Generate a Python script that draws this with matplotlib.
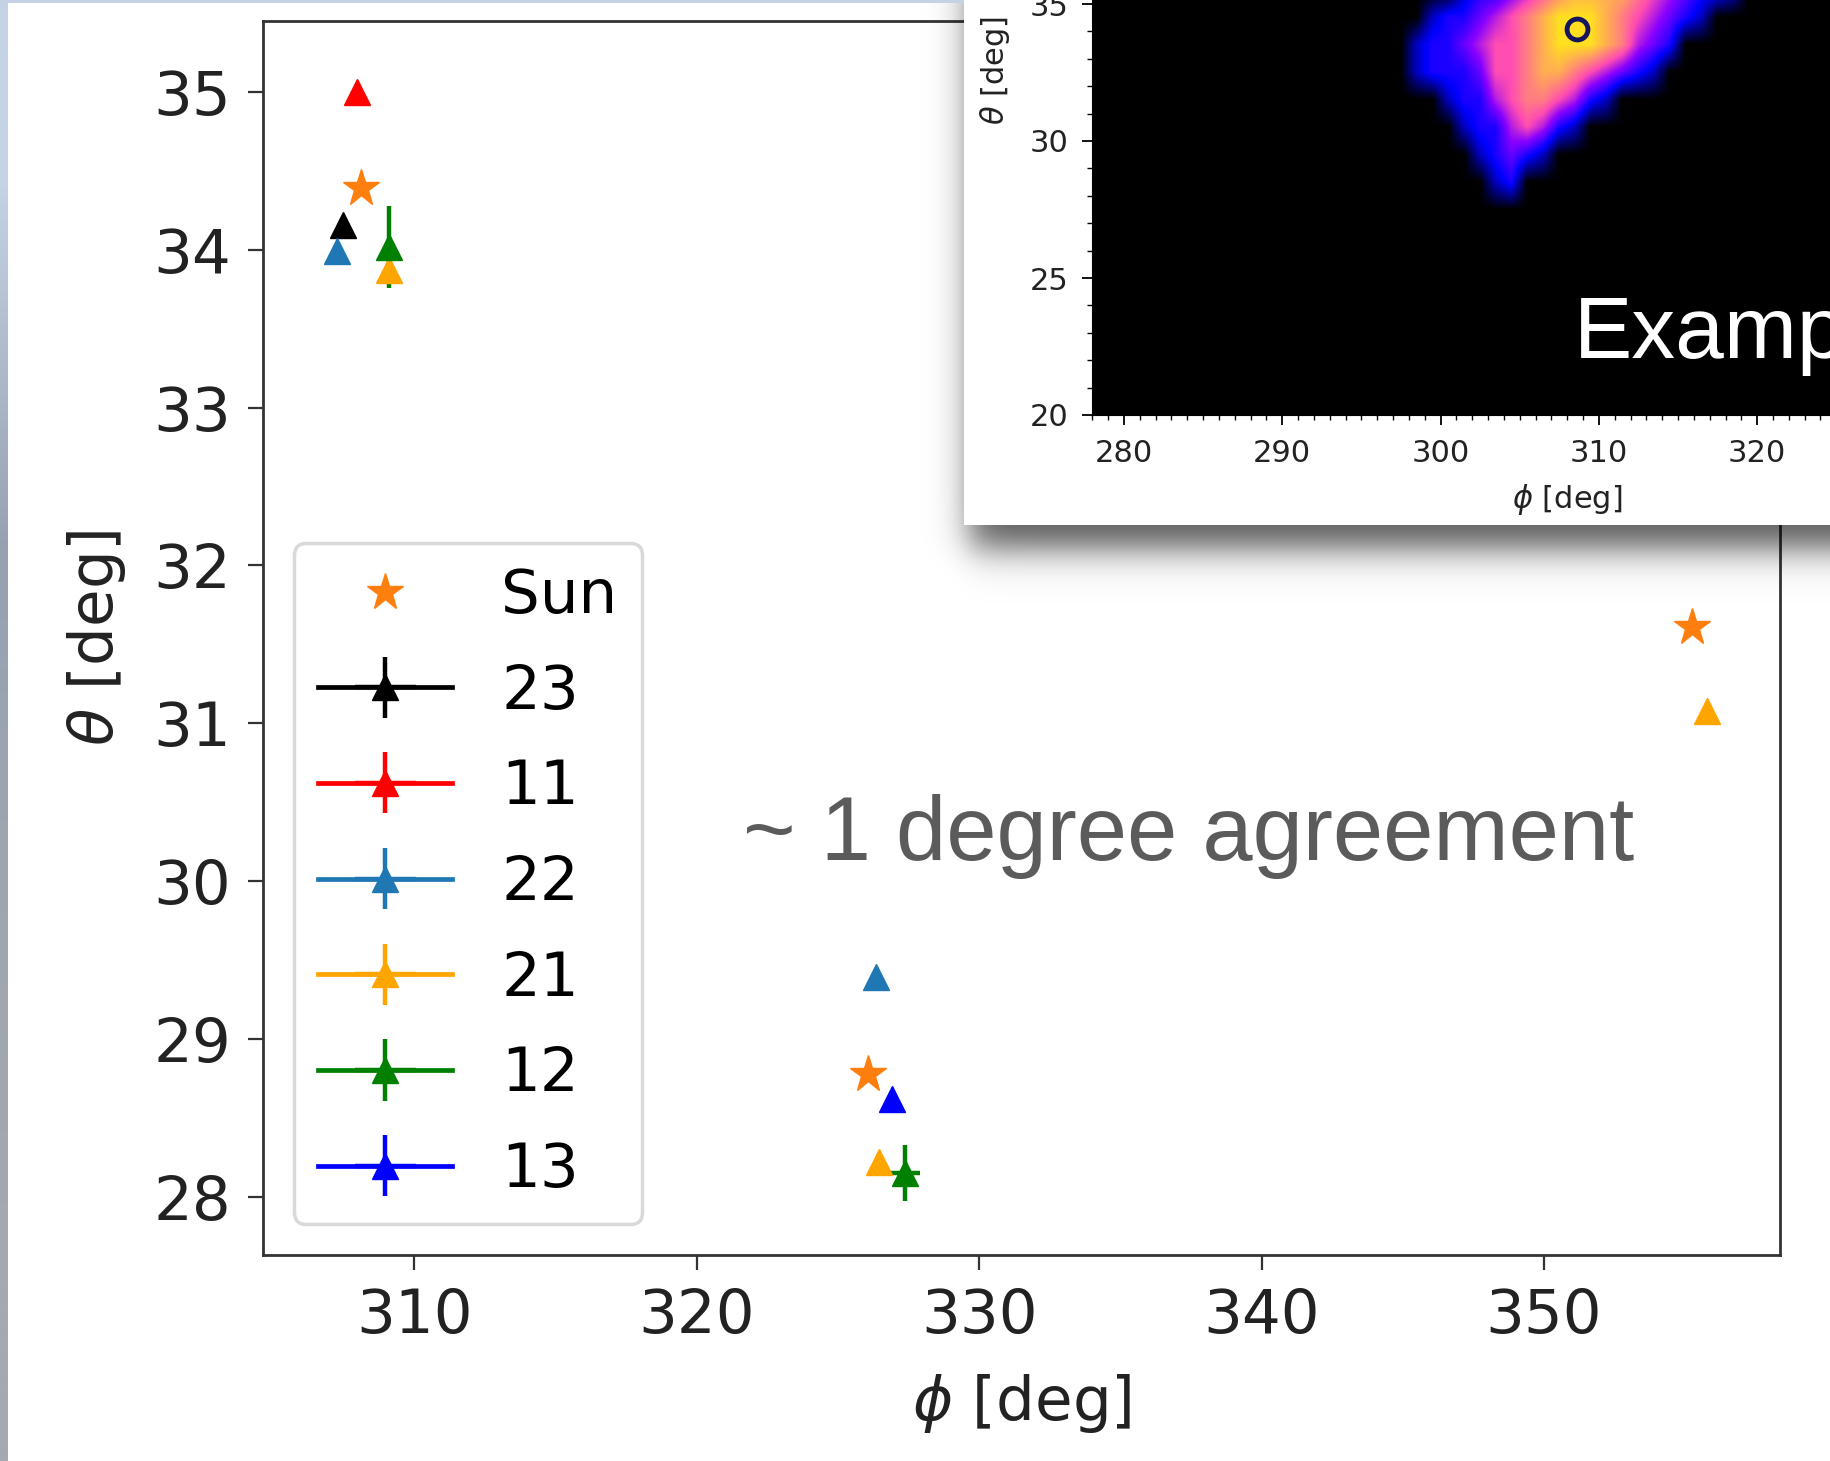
import numpy as np
import matplotlib
matplotlib.use("Agg")
import matplotlib.pyplot as plt
from matplotlib.patches import Rectangle
from matplotlib.ticker import MultipleLocator

# --- data (phi, theta in degrees) ---
sun_phi = [308.1, 326.07, 355.25]
sun_theta = [34.39, 28.78, 31.61]

names = ["23", "11", "22", "21", "12", "13"]
colors = ["black", "red", "#1f77b4", "orange", "green", "blue"]
phi = [[307.48], [307.97], [307.27, 326.36], [309.09, 326.45, 355.79], [309.09, 327.36], [326.9]]
theta = [[34.16], [35.0], [33.99, 29.39], [33.87, 28.22, 31.08], [34.02, 28.15], [28.62]]
phi_err = [[0.1], [0.1], [0.1, 0.1], [0.1, 0.1, 0.1], [0.15, 0.55], [0.1]]
theta_err = [[0.05], [0.05], [0.05, 0.05], [0.05, 0.05, 0.05], [0.26, 0.18], [0.05]]

# inset likelihood map, rows theta 27..35, columns phi 296..319 (levels 0-9)
heat_rows = [
    "000000000000000000000000",
    "000000023000000000000000",
    "000000234320000000000000",
    "000002335653200000000000",
    "000023356776532000000000",
    "002333466788765432000000",
    "002334566789998754300000",
    "000233456789998765432000",
    "000002334567888876543320",
]
heat_phi0, heat_theta0 = 296, 27
best_fit = (308.6, 34.1)

W, H = 1830, 1461
fig = plt.figure(figsize=(W / 100, H / 100), dpi=100)
fig.patch.set_facecolor("white")

# main axes
ax = fig.add_axes([263 / W, 1 - 1255 / H, (1780 - 263) / W, (1255 - 21) / H])
ax.plot(sun_phi, sun_theta, "*", ls="none", color="#ff7f0e", ms=28, label="Sun")
for name, c, xs, ys, xe, ye in zip(names, colors, phi, theta, phi_err, theta_err):
    for i in range(len(xs)):
        ax.errorbar([xs[i]], [ys[i]], xerr=[xe[i]], yerr=[ye[i]], marker="^", ls="-",
                    color=c, ms=19, lw=3.4, elinewidth=3.2, capsize=0,
                    label=name if i == 0 else None)

ax.set_xlim(304.64, 358.36)
ax.set_ylim(27.63, 35.45)
ax.set_xticks([310, 320, 330, 340, 350])
ax.set_yticks([28, 29, 30, 31, 32, 33, 34, 35])
ax.tick_params(labelsize=44, length=11, width=1.6, pad=12, labelcolor="#222222", color="#333333")
for s in ax.spines.values():
    s.set_linewidth(2)
    s.set_color("#333333")
ax.set_xlabel(r"$\phi$ [deg]", fontsize=44, color="#222222")
ax.set_ylabel(r"$\theta$ [deg]", fontsize=44, color="#222222")
ax.xaxis.set_label_coords(0.5, -0.095)
ax.yaxis.set_label_coords(-0.089, 0.5)
leg = ax.legend(loc="lower left", fontsize=44, borderaxespad=0.5, framealpha=0.8,
                edgecolor="#d0d0d0", labelspacing=0.6, handlelength=2.2)
leg.get_frame().set_linewidth(2.5)

# overlay in pixel coordinates: slide border, inset panel and its shadow
ov = fig.add_axes([0, 0, 1, 1])
ov.set_zorder(5)
ov.patch.set_alpha(0)
ov.axis("off")
gx = np.arange(880, W) + 0.5
gy = np.arange(0, 700) + 0.5
sx = 1 / (1 + np.exp(-(gx - 970) / 10))
sy = 1 / (1 + np.exp(-(548 - gy) / 11))
shadow = np.zeros((len(gy), len(gx), 4))
shadow[..., 3] = 0.66 * np.outer(sy, sx)
ov.imshow(shadow, extent=(880, W, 700, 0), origin="upper", aspect="auto",
          interpolation="bilinear", zorder=1)
ov.add_patch(Rectangle((964, 0), W - 964 + 5, 525, facecolor="white", edgecolor="none", zorder=2))
strip = np.array([[[196, 211, 230]], [[150, 162, 178]], [[160, 166, 175]], [[165, 169, 176]]]) / 255
ov.imshow(strip, extent=(0, 8, H, 0), aspect="auto", interpolation="bilinear", zorder=3)
ov.add_patch(Rectangle((0, 0), 964, 2.5, facecolor="#c4d2e4", edgecolor="none", zorder=3))
ov.set_xlim(0, W)
ov.set_ylim(H, 0)

# inset heatmap
hx = fig.add_axes([1092.3 / W, 1 - 415 / H, (W - 1092.3) / W, 415 / H])
hx.set_zorder(6)
hx.set_facecolor("black")
grid = np.array([[int(ch) for ch in row] for row in heat_rows], dtype=float)
hx.imshow(grid, extent=(heat_phi0, heat_phi0 + grid.shape[1], heat_theta0, heat_theta0 + grid.shape[0]),
          origin="lower", cmap="gnuplot2", vmin=0, vmax=10.5, interpolation="bilinear", aspect="auto")
hx.plot(*best_fit, "o", mfc="none", mec="#15155e", mew=3.5, ms=15)
hx.set_xlim(278, 278 + (W - 1092.3) / 15.83)
hx.set_ylim(20, 20 + 415 / 27.4)
hx.xaxis.set_major_locator(MultipleLocator(10))
hx.xaxis.set_minor_locator(MultipleLocator(1))
hx.yaxis.set_major_locator(MultipleLocator(5))
hx.yaxis.set_minor_locator(MultipleLocator(1))
hx.tick_params(which="major", labelsize=22, length=7, width=1.3, pad=10, labelcolor="#222222")
hx.tick_params(which="minor", length=3.5, width=1)
hx.spines["top"].set_visible(False)
hx.spines["right"].set_visible(False)
hx.set_xlabel(r"$\phi$ [deg]", fontsize=22, color="#222222")
hx.set_ylabel(r"$\theta$ [deg]", fontsize=22, color="#222222")
hx.xaxis.set_label_coords(0.6435, -0.161)
hx.yaxis.set_label_coords(-0.109, 0.831)

# slide text
fig.text(1574 / W, 1 - 358 / H, "Example", color="white", fontsize=63,
         family="Liberation Sans", va="baseline", zorder=10)
fig.text(743 / W, 1 - 860 / H, "~ 1 degree agreement", color="#5b5b5b", fontsize=65,
         family="Liberation Sans", va="baseline", zorder=10)

fig.savefig("out.png", dpi=100)
